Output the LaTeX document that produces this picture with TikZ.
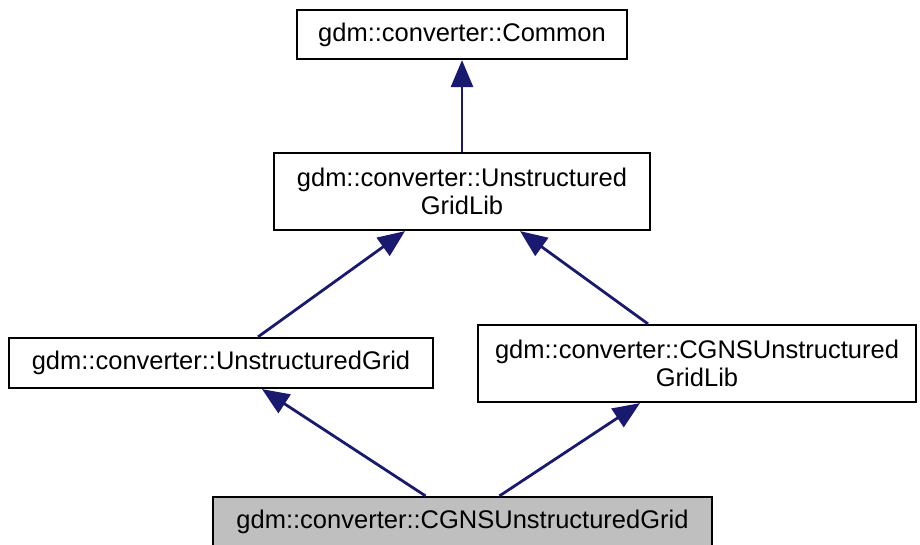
\documentclass[tikz,border=0pt]{standalone}
\usepackage{fontspec}
\setmainfont{Liberation Sans}
\usepackage{tikz}
\usetikzlibrary{arrows.meta}
\definecolor{edgeblue}{HTML}{191970}
\definecolor{selgray}{HTML}{BFBFBF}

\begin{document}
\begin{tikzpicture}[x=1pt, y=-1pt,
  box/.style={draw, line width=2.2pt, align=center, inner sep=0pt, font=\fontsize{25.5}{28}\selectfont},
  inherit/.style={draw=edgeblue, line width=2.8pt, -{Triangle[length=27pt,width=22pt,fill=edgeblue]}}]
  \useasboundingbox (0,0) rectangle (920,544);
  \node[box, minimum width=330pt, minimum height=49pt] (common) at (462,34.5) {gdm::converter::Common};
  \node[box, minimum width=376pt, minimum height=77pt] (ugl) at (462,191.5) {gdm::converter::Unstructured\\GridLib};
  \node[box, minimum width=424pt, minimum height=50pt] (ug) at (221,363) {gdm::converter::UnstructuredGrid};
  \node[box, minimum width=438pt, minimum height=77pt] (cgnsugl) at (697,363.5) {gdm::converter::CGNSUnstructured\\GridLib};
  \node[box, fill=selgray, minimum width=499pt, minimum height=49pt] (cgnsug) at (462.5,521.5) {gdm::converter::CGNSUnstructuredGrid};
  \path
  (ugl.north) edge[inherit] (common.south)
  ([xshift=37pt]ug.north) edge[inherit] ([xshift=-57pt]ugl.south)
  ([xshift=-49pt]cgnsugl.north) edge[inherit] ([xshift=58pt]ugl.south)
  ([xshift=-37pt]cgnsug.north) edge[inherit] ([xshift=41pt]ug.south)
  ([xshift=37pt]cgnsug.north) edge[inherit] ([xshift=-57pt]cgnsugl.south)
  ;
\end{tikzpicture}
\end{document}
